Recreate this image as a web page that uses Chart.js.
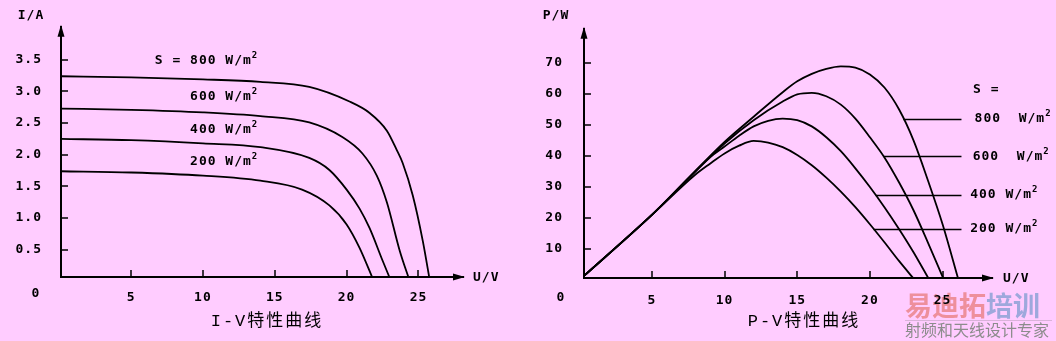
<!DOCTYPE html>
<html>
<head>
<meta charset="utf-8">
<script src="https://cdn.jsdelivr.net/npm/chart.js@4.4.1/dist/chart.umd.min.js"></script>
<style>
  html, body { margin: 0; padding: 0; background: #ffccff; }
  #wrap { position: relative; width: 1056px; height: 341px; overflow: hidden; background: #ffccff; }
  .box { position: absolute; top: 0; width: 528px; height: 341px; }
</style>
</head>
<body>
<div id="wrap">
  <div class="box" style="left:0"><canvas id="iv-chart" width="528" height="341"></canvas></div>
  <div class="box" style="left:528px"><canvas id="pv-chart" width="528" height="341"></canvas></div>
</div>
<script>
// irradiance levels, top curve first
const irradiance = ['800', '600', '400', '200'];

// I-V curves: voltage (V) and current (A)
const ivU800 = [0, 5, 10, 14, 17.4, 20.2, 21.6, 22.8, 23.5, 23.9, 24.6, 25.3, 25.8];
const ivI800 = [3.24, 3.22, 3.19, 3.15, 3.07, 2.84, 2.66, 2.38, 2.07, 1.87, 1.36, 0.64, 0];
const ivU600 = [0, 5, 10, 14, 17.4, 19.7, 21.1, 22.1, 22.8, 23.7, 24.4];
const ivI600 = [2.73, 2.71, 2.67, 2.61, 2.51, 2.28, 2.02, 1.67, 1.25, 0.48, 0];
const ivU400 = [0, 5, 10, 14, 17.4, 18.8, 20, 20.9, 21.6, 22.5, 23.1];
const ivI400 = [2.25, 2.23, 2.18, 2.12, 1.95, 1.76, 1.45, 1.15, 0.84, 0.33, 0];
const ivU200 = [0, 5, 10, 14, 16.9, 18.8, 20, 20.9, 21.9];
const ivI200 = [1.74, 1.72, 1.67, 1.59, 1.45, 1.2, 0.9, 0.53, 0];

// P-V curves: voltage (V) and power (W)
const pvU800 = [0, 5, 10, 12, 14, 15, 16, 17, 18, 19, 20, 21, 22, 23, 24, 25, 26.1];
const pvP800 = [0, 21, 44.5, 52.6, 60.5, 64, 66.4, 68, 68.8, 68.4, 66.2, 62, 55, 45, 32, 18, 0];
const pvU600 = [0, 5, 10, 12, 14, 15, 16, 17, 18, 19, 20, 21, 22, 23, 24, 25.1];
const pvP600 = [0, 21, 44, 51.5, 57.5, 59.8, 60.3, 59.2, 56.5, 52, 46, 39.5, 31.5, 22.5, 12, 0];
const pvU400 = [0, 5, 9, 10, 11, 12, 13, 14, 15, 16, 17, 18, 19, 20, 21, 22, 23, 24.1];
const pvP400 = [0, 21, 39.5, 43, 46.5, 49.5, 51.3, 52, 51.5, 49.5, 46, 41.5, 36, 30, 23.5, 16.5, 9, 0];
const pvU200 = [0, 5, 8, 9, 10, 11, 12, 13, 14, 15, 16, 17, 18, 19, 20, 21, 22, 23.1];
const pvP200 = [0, 21, 34, 37.5, 40.8, 43.3, 44.8, 44.3, 42.8, 40.3, 37, 33, 28.5, 23.5, 18, 12.2, 6.2, 0];

// tick labels
const uTicks = [5, 10, 15, 20, 25];
const iTicks = [0.5, 1.0, 1.5, 2.0, 2.5, 3.0, 3.5];
const pTicks = [10, 20, 30, 40, 50, 60, 70];

const MONO = '"DejaVu Sans Mono", monospace';
const tickFont = { family: MONO, size: 13, weight: 'bold' };

const toPoints = (xs, ys) => xs.map((x, i) => ({ x, y: ys[i] }));

const curve = (label, xs, ys) => ({
  label,
  data: toPoints(xs, ys),
  borderColor: '#000',
  borderWidth: 1.8,
  pointRadius: 0,
  fill: false,
  cubicInterpolationMode: 'monotone'
});

// text with a superscript "2" after it (W/m²)
const drawUnitLabel = (ctx, str, x, y, align) => {
  ctx.font = `bold 13px ${MONO}`;
  const w = ctx.measureText(str).width;
  ctx.font = `bold 9px ${MONO}`;
  const ws = ctx.measureText('2').width;
  const x0 = align === 'right' ? x - w - ws : x;
  ctx.textAlign = 'left';
  ctx.textBaseline = 'middle';
  ctx.font = `bold 13px ${MONO}`;
  ctx.fillText(str, x0, y);
  ctx.font = `bold 9px ${MONO}`;
  ctx.fillText('2', x0 + w, y - 5);
};

const axesDecor = {
  id: 'axesDecor',
  beforeDraw(chart, args, opts) {
    const { ctx } = chart;
    ctx.letterSpacing = '1px';
    if (!opts.watermark) return;
    ctx.save();
    ctx.letterSpacing = '0px';
    ctx.textBaseline = 'middle';
    ctx.textAlign = 'left';
    ctx.font = 'bold 27px "Noto Sans CJK SC"';
    ctx.fillStyle = '#ee8f9c';
    ctx.fillText('易迪拓', 377, 306);
    const w = ctx.measureText('易迪拓').width;
    ctx.fillStyle = '#9ea8dc';
    ctx.fillText('培训', 377 + w, 306);
    ctx.strokeStyle = '#d9b3d9';
    ctx.lineWidth = 1;
    ctx.beginPath();
    ctx.moveTo(377, 320.5);
    ctx.lineTo(524, 320.5);
    ctx.stroke();
    ctx.font = '16px "Noto Sans CJK SC"';
    ctx.fillStyle = '#8c8c8c';
    ctx.fillText('射频和天线设计专家', 377, 330);
    ctx.restore();
  },
  afterDraw(chart, args, opts) {
    const { ctx, chartArea: a, scales: { x, y } } = chart;
    ctx.save();
    ctx.letterSpacing = '1px';
    ctx.fillStyle = '#000';
    ctx.strokeStyle = '#000';

    // arrow heads
    ctx.beginPath();
    ctx.moveTo(a.left, a.top - 2);
    ctx.lineTo(a.left - 3.5, a.top + 10);
    ctx.lineTo(a.left + 3.5, a.top + 10);
    ctx.closePath();
    ctx.fill();
    ctx.beginPath();
    ctx.moveTo(a.right + 2, a.bottom);
    ctx.lineTo(a.right - 10, a.bottom - 3.5);
    ctx.lineTo(a.right - 10, a.bottom + 3.5);
    ctx.closePath();
    ctx.fill();

    // inward tick marks
    ctx.lineWidth = 1.5;
    ctx.beginPath();
    y.ticks.forEach((t) => {
      const py = Math.round(y.getPixelForValue(t.value));
      ctx.moveTo(a.left, py);
      ctx.lineTo(a.left + 7, py);
    });
    x.ticks.forEach((t) => {
      const px = Math.round(x.getPixelForValue(t.value));
      ctx.moveTo(px, a.bottom);
      ctx.lineTo(px, a.bottom - 7);
    });
    ctx.stroke();

    // axis names and the lone origin label
    ctx.font = `bold 13px ${MONO}`;
    ctx.textBaseline = 'middle';
    ctx.textAlign = 'center';
    ctx.fillText(opts.yName, a.left - opts.yNameDx, 16);
    ctx.textAlign = 'left';
    ctx.fillText(opts.xName, a.right + opts.xNameDx, a.bottom + 1);
    ctx.textAlign = 'center';
    ctx.fillText('0', a.left + opts.zero[0], a.bottom + opts.zero[1]);

    // leader lines (right chart legend)
    ctx.lineWidth = 1.5;
    (opts.leaders || []).forEach((l) => {
      const py = Math.round(y.getPixelForValue(l.p)) + 0.5;
      ctx.beginPath();
      ctx.moveTo(x.getPixelForValue(l.from), py);
      ctx.lineTo(x.getPixelForValue(l.to), py);
      ctx.stroke();
    });

    // curve labels
    (opts.labels || []).forEach((l) => {
      const px = x.getPixelForValue(l.x);
      const py = y.getPixelForValue(l.y);
      if (l.unit) {
        drawUnitLabel(ctx, l.text, px, py, l.align);
      } else {
        ctx.font = `bold 13px ${MONO}`;
        ctx.textAlign = l.align;
        ctx.fillText(l.text, px, py);
      }
    });

    // chart caption
    ctx.font = '17px "Liberation Mono", "Noto Sans CJK SC"';
    ctx.letterSpacing = '2px';
    ctx.textAlign = 'center';
    ctx.textBaseline = 'middle';
    ctx.fillText(opts.caption, opts.captionX, 321);
    ctx.restore();
  }
};

const baseOptions = (xCfg, yCfg, padding, decor) => ({
  responsive: false,
  animation: false,
  devicePixelRatio: 1,
  layout: { padding },
  plugins: {
    legend: { display: false },
    tooltip: { enabled: false },
    axesDecor: decor
  },
  scales: {
    x: {
      type: 'linear',
      min: xCfg.min,
      max: xCfg.max,
      afterBuildTicks: (axis) => {
        axis.ticks = uTicks.map((v) => ({ value: v }));
      },
      afterFit: (s) => {
        s.height = xCfg.height;
      },
      grid: { display: false, drawTicks: false },
      border: { display: true, color: '#000', width: 2 },
      ticks: { padding: xCfg.pad, font: tickFont, color: '#000', autoSkip: false, maxRotation: 0 }
    },
    y: {
      type: 'linear',
      min: yCfg.min,
      max: yCfg.max,
      afterBuildTicks: (axis) => {
        axis.ticks = yCfg.ticks.map((v) => ({ value: v }));
      },
      afterFit: (s) => {
        s.width = yCfg.width;
      },
      grid: { display: false, drawTicks: false },
      border: { display: true, color: '#000', width: 2 },
      ticks: { padding: yCfg.pad, font: tickFont, color: '#000', callback: yCfg.format }
    }
  }
});

// I-V chart
new Chart(document.getElementById('iv-chart'), {
  type: 'line',
  data: {
    datasets: [
      curve(irradiance[0], ivU800, ivI800),
      curve(irradiance[1], ivU600, ivI600),
      curve(irradiance[2], ivU400, ivI400),
      curve(irradiance[3], ivU200, ivI200)
    ]
  },
  options: baseOptions(
    { min: 0.12, max: 28.1, height: 64, pad: 13 },
    { min: 0.07, max: 4.02, width: 61, pad: 19, ticks: iTicks, format: (v) => v.toFixed(1) },
    { top: 20, right: 65, left: 0, bottom: 0 },
    {
      yName: 'I/A',
      yNameDx: 30,
      xName: 'U/V',
      xNameDx: 10,
      zero: [-25, 17],
      caption: 'I-V特性曲线',
      captionX: 267,
      labels: [
        { text: `S = ${irradiance[0]} W/m`, x: 13.85, y: 3.48, align: 'right', unit: true },
        { text: `${irradiance[1]} W/m`, x: 13.85, y: 2.91, align: 'right', unit: true },
        { text: `${irradiance[2]} W/m`, x: 13.85, y: 2.4, align: 'right', unit: true },
        { text: `${irradiance[3]} W/m`, x: 13.85, y: 1.89, align: 'right', unit: true }
      ]
    }
  ),
  plugins: [axesDecor]
});

// P-V chart
new Chart(document.getElementById('pv-chart'), {
  type: 'line',
  data: {
    datasets: [
      curve(irradiance[0], pvU800, pvP800),
      curve(irradiance[1], pvU600, pvP600),
      curve(irradiance[2], pvU400, pvP400),
      curve(irradiance[3], pvU200, pvP200)
    ]
  },
  options: baseOptions(
    { min: 0.33, max: 28.4, height: 63, pad: 15 },
    { min: 0.7, max: 80.9, width: 56, pad: 21, ticks: pTicks, format: (v) => String(v) },
    { top: 20, right: 64, left: 0, bottom: 0 },
    {
      yName: 'P/W',
      yNameDx: 28,
      xName: 'U/V',
      xNameDx: 11,
      zero: [-23, 20],
      caption: 'P-V特性曲线',
      captionX: 276,
      leaders: [
        { p: 52, from: 22.3, to: 26.3 },
        { p: 39.9, from: 20.95, to: 26.3 },
        { p: 27.4, from: 20.4, to: 26.3 },
        { p: 16.5, from: 20.25, to: 26.3 }
      ],
      labels: [
        { text: 'S =', x: 27.1, y: 61.3, align: 'left' },
        { text: `${irradiance[0]}  W/m`, x: 27.2, y: 52, align: 'left', unit: true },
        { text: `${irradiance[1]}  W/m`, x: 27.07, y: 39.9, align: 'left', unit: true },
        { text: `${irradiance[2]} W/m`, x: 26.9, y: 27.4, align: 'left', unit: true },
        { text: `${irradiance[3]} W/m`, x: 26.9, y: 16.5, align: 'left', unit: true }
      ],
      watermark: true
    }
  ),
  plugins: [axesDecor]
});
</script>
</body>
</html>
